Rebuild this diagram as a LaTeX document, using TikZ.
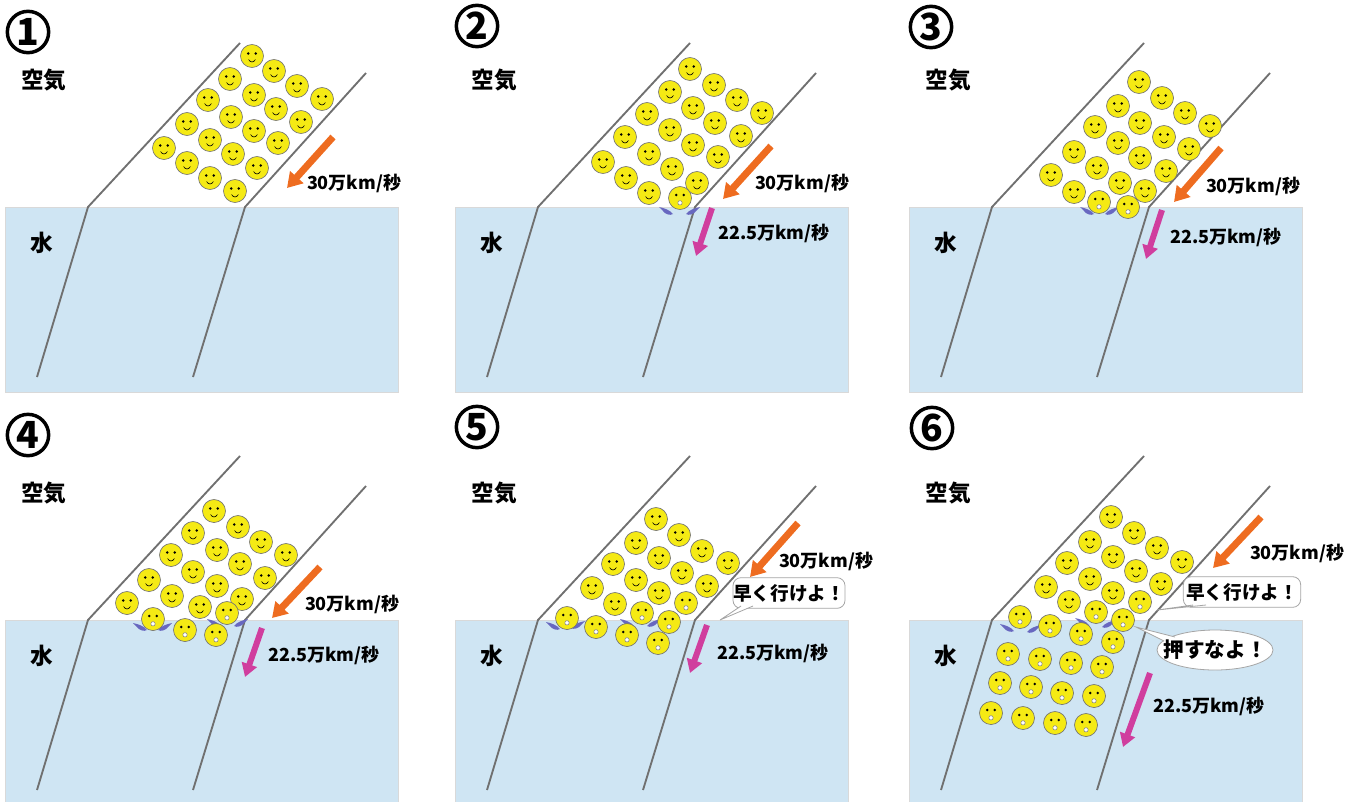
\documentclass[tikz,border=0pt]{standalone}
\usepackage{fontspec}
\newfontfamily\jp{Noto Sans CJK JP}
\usetikzlibrary{arrows.meta}

\definecolor{waterblue}{RGB}{207,229,243}
\definecolor{beamgray}{RGB}{112,112,112}
\definecolor{faceyellow}{RGB}{245,234,20}
\definecolor{fastorange}{RGB}{238,108,32}
\definecolor{slowpink}{RGB}{208,62,158}
\definecolor{splashblue}{RGB}{104,104,192}
\definecolor{bubblegray}{RGB}{165,165,165}

\begin{document}
\begin{tikzpicture}[x=0.75pt, y=-0.75pt,
    beam/.style={draw=beamgray, line width=1.4pt},
    water/.style={fill=waterblue, draw=black!15, line width=0.6pt},
    medium/.style={font=\jp\bfseries\fontsize{17}{18}\selectfont},
    speed/.style={font=\jp\bfseries\fontsize{13.5}{14}\selectfont},
    talk/.style={font=\jp\bfseries\fontsize{14}{14}\selectfont, inner sep=0pt},
    bubble/.style={fill=white, draw=bubblegray, line width=0.6pt},
    fast/.style={draw=fastorange, line width=5.2pt, -{Triangle[length=11pt, width=13pt]}},
    slow/.style={draw=slowpink, line width=4.5pt, -{Triangle[length=10pt, width=11.5pt]}},
    stepno/.style={circle, draw, line width=2.6pt, minimum size=31pt, inner sep=0pt,
      font=\jp\bfseries\fontsize{28}{28}\selectfont},
    smiley/.pic={
      \filldraw[fill=faceyellow, draw=black!55, line width=0.5pt] (0,0) circle (11.5);
      \fill (-3.8,-2.5) circle (1.4) (3.8,-2.5) circle (1.4);
      \draw[line width=0.45pt] (-3.5,3.5) .. controls (-1.2,6.8) and (1.2,6.8) .. (3.5,3.5);
    },
    ohface/.pic={
      \filldraw[fill=faceyellow, draw=black!55, line width=0.5pt] (0,0) circle (11.5);
      \fill (-3.8,-3) circle (1.4) (3.8,-3) circle (1.4);
      \filldraw[fill=white, draw=black!50, line width=0.4pt] (0,4.8) circle (2.2);
    },
    splash/.pic={
      \fill[splashblue] (-8,-3) .. controls (-3,-2) and (3,0) .. (6,4)
        .. controls (3,6) and (-2,4) .. (-4,1) -- cycle;
    }]

\useasboundingbox (0,0) rectangle (1363,801);

% water, the two edges of the beam and the names of the media
\foreach \ox/\oy/\n in {0/0/1, 450/0/2, 904/0/3, 0/413/4, 450/413/5, 904/413/6} {
  \begin{scope}[shift={(\ox,\oy)}]
    \path[water] (5,207) rectangle (398,392);
    \draw[beam] (240,43) -- (88,207) -- (37,377);
    \draw[beam] (366,73) -- (245,207) -- (193,377);
    \node[medium] (air\n) at (44,80) {空気};
    \node[medium] (water\n) at (42,243) {水};
  \end{scope}
}

\node[stepno] (no1) at (28,32) {1};
\node[stepno] (no2) at (477,26) {2};
\node[stepno] (no3) at (931,27) {3};
\node[stepno] (no4) at (28,435) {4};
\node[stepno] (no5) at (477,427) {5};
\node[stepno] (no6) at (932,428) {6};

% splashes at the surface
\foreach \x/\y in {667/210, 1088/210, 141/626, 215/622, 554/625, 628/622, 1008/627, 1083/621}
  \pic at (\x,\y) {splash};
\foreach \x/\y in {692/210, 1111/210, 164/626, 240/622, 577/624, 653/622, 1033/628, 1108/623}
  \pic[xscale=-1] at (\x,\y) {splash};

% 1
\foreach \x/\y in {252/56, 274/71, 297/86, 322/99, 230/79, 254/95, 276/109, 301/122,
    208/100, 231/117, 254/131, 278/143, 187/124, 210/140, 233/154, 257/168,
    164/148, 187/163, 210/178, 235/191}
  \pic at (\x,\y) {smiley};
\draw[fast] (333,137) -- (287,188);
\node[speed] (fast1) at (354,183) {30万km/秒};

% 2
\foreach \x/\y in {690/69, 714/85, 737/100, 762/113, 670/92, 693/108, 715/123, 741/136,
    647/114, 670/130, 693/145, 718/157, 625/137, 649/154, 672/169, 697/183,
    603/162, 626/178, 649/193}
  \pic at (\x,\y) {smiley};
\pic at (680,198) {ohface};
\draw[fast] (771,146) -- (723,199);
\node[speed] (fast2) at (802,183) {30万km/秒};
\draw[slow] (712,208) -- (696,256);
\node[speed] (slow2) at (774,233) {22.5万km/秒};

% 3
\foreach \x/\y in {1139/82, 1162/98, 1185/113, 1210/126, 1118/106, 1140/123, 1164/137, 1189/149,
    1095/127, 1118/143, 1140/158, 1166/171, 1074/152, 1097/168, 1120/183, 1145/191,
    1051/175, 1074/192}
  \pic at (\x,\y) {smiley};
\foreach \x/\y in {1099/202, 1128/207}
  \pic at (\x,\y) {ohface};
\draw[fast] (1221,148) -- (1174,202);
\node[speed] (fast3) at (1253,186) {30万km/秒};
\draw[slow] (1162,210) -- (1146,259);
\node[speed] (slow3) at (1226,237) {22.5万km/秒};

% 4
\foreach \x/\y in {214/511, 238/527, 261/542, 286/555, 193/533, 217/550, 240/564, 265/578,
    171/555, 193/572, 217/586, 242/599, 149/580, 172/596, 200/607, 127/603}
  \pic at (\x,\y) {smiley};
\foreach \x/\y in {153/619, 227/613, 185/630, 216/635}
  \pic at (\x,\y) {ohface};
\draw[fast] (320,567) -- (272,618);
\node[speed] (fast4) at (352,604) {30万km/秒};
\draw[slow] (262,628) -- (245,677);
\node[speed] (slow4) at (324,655) {22.5万km/秒};

% 5
\foreach \x/\y in {656/519, 679/535, 702/551, 728/563, 636/543, 659/558, 682/573, 707/586,
    613/564, 636/580, 659/593, 592/588, 615/604}
  \pic at (\x,\y) {smiley};
\foreach \x/\y in {686/603, 567/618, 642/613, 596/627, 669/622, 627/635, 658/643}
  \pic at (\x,\y) {ohface};
\draw[fast] (798,523) -- (750,577);
\node[speed] (fast5) at (826,561) {30万km/秒};
\node[bubble, talk, rounded corners=6pt, minimum width=84pt, minimum height=23pt]
  (hurry5) at (789,593) {早く行けよ！};
\filldraw[bubble] (741,606) -- (720,620) -- (753,606);
\draw[slow] (707,625) -- (690,673);
\node[speed] (slow5) at (773,653) {22.5万km/秒};

% 6
\foreach \x/\y in {1111/517, 1134/533, 1157/548, 1182/562, 1090/542, 1113/557, 1136/571, 1161/584,
    1067/563, 1090/579, 1113/593, 1046/587, 1069/602}
  \pic at (\x,\y) {smiley};
\foreach \x/\y in {1140/602, 1096/612, 1020/617, 1123/620, 1050/626, 1081/634, 1113/642,
    1008/654, 1040/659, 1071/663, 1102/667, 1000/683, 1031/687, 1062/693, 1094/696,
    991/713, 1023/718, 1055/723, 1086/725}
  \pic at (\x,\y) {ohface};
\draw[fast] (1261,517) -- (1213,568);
\node[speed] (fast6) at (1297,553) {30万km/秒};
\node[bubble, talk, rounded corners=6pt, minimum width=88pt, minimum height=23pt]
  (hurry6) at (1242,592) {早く行けよ！};
\filldraw[bubble] (1193,605) -- (1157,610) -- (1206,605);
\filldraw[bubble] (1215,650) ellipse [x radius=58, y radius=20];
\filldraw[bubble] (1164,641) -- (1136,627) -- (1175,637);
\node[talk, font=\jp\bfseries\fontsize{15.5}{16}\selectfont] (push6) at (1215,650) {押すなよ！};
\draw[slow] (1150,673) -- (1123,747);
\node[speed] (slow6) at (1209,706) {22.5万km/秒};
\end{tikzpicture}
\end{document}
